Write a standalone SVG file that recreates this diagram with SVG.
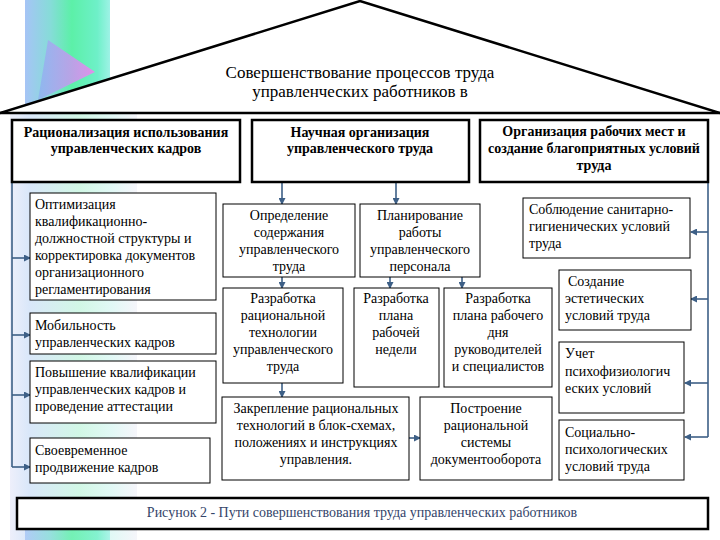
<svg xmlns="http://www.w3.org/2000/svg" width="720" height="540" viewBox="0 0 720 540" font-family="'Liberation Serif', 'Times New Roman', serif">
<defs>
<linearGradient id="stripTop" x1="0" y1="0" x2="1" y2="0">
<stop offset="0" stop-color="#a6c4f6"/>
<stop offset="0.3" stop-color="#86dcd8"/>
<stop offset="0.55" stop-color="#5cf0a8"/>
<stop offset="0.85" stop-color="#6ef0c8"/>
<stop offset="1" stop-color="#9ef2e6"/>
</linearGradient>
<linearGradient id="stripLow" x1="0" y1="0" x2="1" y2="0">
<stop offset="0" stop-color="#dcdff6"/>
<stop offset="0.15" stop-color="#b4cff4"/>
<stop offset="0.55" stop-color="#a4f0cc"/>
<stop offset="0.8" stop-color="#c4f2ec"/>
<stop offset="1" stop-color="#ececf6"/>
</linearGradient>
<linearGradient id="tri" x1="0" y1="0.5" x2="1" y2="0.5">
<stop offset="0" stop-color="#8cb4f0"/>
<stop offset="1" stop-color="#f480f0"/>
</linearGradient>
<marker id="ah" markerWidth="7" markerHeight="7" refX="6" refY="3.5" orient="auto" markerUnits="userSpaceOnUse">
<path d="M0,0 L7,3.5 L0,7 z" fill="#3d5f86"/>
</marker>
<style>
text{font-family:"Liberation Serif","Times New Roman",serif}
.t{font-size:14px;fill:#000}
.b{font-weight:bold}
.c{text-anchor:middle}
.hd{fill:#fff;stroke:#000;stroke-width:2.5}
.bx{fill:#fff;stroke:#000;stroke-width:1}
.ln{fill:none;stroke:#3d5f86;stroke-width:1.6}
.lna{fill:none;stroke:#3d5f86;stroke-width:1.6;marker-end:url(#ah)}
</style>
</defs>

<g id="background">
<rect x="10" y="113" width="127" height="427" fill="url(#stripLow)" opacity="0.5"/>
<rect x="25" y="0" width="85" height="113" fill="url(#stripTop)"/>
<polygon points="48,40 95,72 38,100" fill="url(#tri)" opacity="0.85"/>
<rect x="25" y="528" width="85" height="12" fill="url(#stripTop)" opacity="0.8"/>
</g>

<g id="roof">
<polygon points="0,113 360,1 720,113" fill="#fff" stroke="none"/>
<polyline points="0,113 360,1 720,113" fill="none" stroke="#000" stroke-width="2.5"/>
<line x1="0" y1="113" x2="720" y2="113" stroke="#000" stroke-width="2.5"/>
<text class="c" x="360" y="78" font-size="17">Совершенствование процессов труда</text>
<text class="c" x="360" y="97" font-size="17">управленческих работников в</text>
</g>

<g id="connectors">
<polyline class="ln" points="12,182 12,467"/>
<line class="lna" x1="12" y1="258" x2="30" y2="258"/>
<line class="lna" x1="12" y1="335" x2="30" y2="335"/>
<line class="lna" x1="12" y1="395" x2="30" y2="395"/>
<line class="lna" x1="12" y1="467" x2="30" y2="467"/>
<polyline class="ln" points="708,182 708,437"/>
<line class="lna" x1="708" y1="232" x2="691" y2="232"/>
<line class="lna" x1="708" y1="299" x2="691" y2="299"/>
<line class="lna" x1="708" y1="383" x2="685" y2="383"/>
<line class="lna" x1="708" y1="437" x2="685" y2="437"/>
<line class="lna" x1="282" y1="183" x2="282" y2="204"/>
<line class="lna" x1="396" y1="183" x2="396" y2="204"/>
<line class="lna" x1="282" y1="277" x2="282" y2="288"/>
<line class="lna" x1="390" y1="277" x2="390" y2="288"/>
<line class="lna" x1="462" y1="277" x2="462" y2="288"/>
<line class="lna" x1="282" y1="383" x2="282" y2="397"/>
<line class="lna" x1="409" y1="438" x2="420" y2="438"/>
</g>

<g id="h1">
<rect class="hd" x="12" y="120" width="228" height="62"/>
<text class="t b c" x="126" y="137">Рационализация использования</text>
<text class="t b c" x="126" y="153">управленческих кадров</text>
</g>
<g id="h2">
<rect class="hd" x="252" y="120" width="217" height="62"/>
<text class="t b c" x="360" y="137">Научная организация</text>
<text class="t b c" x="360" y="153">управленческого труда</text>
</g>
<g id="h3">
<rect class="hd" x="480" y="120" width="228" height="62"/>
<text class="t b c" x="594" y="136">Организация рабочих мест и</text>
<text class="t b c" x="594" y="153">создание благоприятных условий</text>
<text class="t b c" x="594" y="170">труда</text>
</g>

<g id="l1">
<rect class="bx" x="30" y="193" width="186" height="107"/>
<text class="t" x="35" y="209">Оптимизация</text>
<text class="t" x="35" y="226">квалификационно-</text>
<text class="t" x="35" y="243">должностной структуры и</text>
<text class="t" x="35" y="260">корректировка документов</text>
<text class="t" x="35" y="277">организационного</text>
<text class="t" x="35" y="294">регламентирования</text>
</g>
<g id="l2">
<rect class="bx" x="30" y="313" width="186" height="41"/>
<text class="t" x="35" y="330">Мобильность</text>
<text class="t" x="35" y="347">управленческих кадров</text>
</g>
<g id="l3">
<rect class="bx" x="30" y="361" width="186" height="62"/>
<text class="t" x="35" y="377">Повышение квалификации</text>
<text class="t" x="35" y="394">управленческих кадров и</text>
<text class="t" x="35" y="411">проведение аттестации</text>
</g>
<g id="l4">
<rect class="bx" x="30" y="438" width="180" height="45"/>
<text class="t" x="35" y="455">Своевременное</text>
<text class="t" x="35" y="472">продвижение кадров</text>
</g>

<g id="m1">
<rect class="bx" x="223" y="204" width="132" height="73"/>
<text class="t c" x="289" y="220">Определение</text>
<text class="t c" x="289" y="237">содержания</text>
<text class="t c" x="289" y="254">управленческого</text>
<text class="t c" x="289" y="271">труда</text>
</g>
<g id="m2">
<rect class="bx" x="360" y="204" width="120" height="73"/>
<text class="t c" x="420" y="220">Планирование</text>
<text class="t c" x="420" y="237">работы</text>
<text class="t c" x="420" y="254">управленческого</text>
<text class="t c" x="420" y="271">персонала</text>
</g>
<g id="m3">
<rect class="bx" x="223" y="288" width="120" height="95"/>
<text class="t c" x="283" y="303">Разработка</text>
<text class="t c" x="283" y="320">рациональной</text>
<text class="t c" x="283" y="337">технологии</text>
<text class="t c" x="283" y="354">управленческого</text>
<text class="t c" x="283" y="371">труда</text>
</g>
<g id="m4">
<rect class="bx" x="354" y="288" width="85" height="99"/>
<text class="t c" x="396" y="303">Разработка</text>
<text class="t c" x="396" y="320">плана</text>
<text class="t c" x="396" y="337">рабочей</text>
<text class="t c" x="396" y="354">недели</text>
</g>
<g id="m5">
<rect class="bx" x="444" y="288" width="108" height="99"/>
<text class="t c" x="498" y="303">Разработка</text>
<text class="t c" x="498" y="320">плана рабочего</text>
<text class="t c" x="498" y="337">дня</text>
<text class="t c" x="498" y="354">руководителей</text>
<text class="t c" x="498" y="371">и специалистов</text>
</g>
<g id="m6">
<rect class="bx" x="222" y="397" width="187" height="83"/>
<text class="t c" x="316" y="413">Закрепление рациональных</text>
<text class="t c" x="316" y="430">технологий в блок-схемах,</text>
<text class="t c" x="316" y="447">положениях и инструкциях</text>
<text class="t c" x="316" y="464">управления.</text>
</g>
<g id="m7">
<rect class="bx" x="420" y="397" width="132" height="83"/>
<text class="t c" x="486" y="413">Построение</text>
<text class="t c" x="486" y="430">рациональной</text>
<text class="t c" x="486" y="447">системы</text>
<text class="t c" x="486" y="464">документооборота</text>
</g>

<g id="r1">
<rect class="bx" x="523" y="198" width="167" height="60"/>
<text class="t" x="529" y="214">Соблюдение санитарно-</text>
<text class="t" x="529" y="231">гигиенических условий</text>
<text class="t" x="529" y="248">труда</text>
</g>
<g id="r2">
<rect class="bx" x="559" y="270" width="132" height="60"/>
<text class="t" x="568" y="286">Создание</text>
<text class="t" x="565" y="303">эстетических</text>
<text class="t" x="565" y="320">условий труда</text>
</g>
<g id="r3">
<rect class="bx" x="559" y="342" width="125" height="71"/>
<text class="t" x="565" y="358">Учет</text>
<text class="t" x="565" y="376">психофизиологич</text>
<text class="t" x="565" y="393">еских условий</text>
</g>
<g id="r4">
<rect class="bx" x="559" y="420" width="125" height="60"/>
<text class="t" x="565" y="437">Социально-</text>
<text class="t" x="565" y="454">психологических</text>
<text class="t" x="565" y="471">условий труда</text>
</g>

<g id="caption">
<rect x="17" y="498" width="691" height="31" fill="#fff" stroke="#000" stroke-width="2.5"/>
<text class="c" x="362" y="517" font-size="14" fill="#34456a">Рисунок 2 - Пути совершенствования труда  управленческих работников</text>
</g>
</svg>
